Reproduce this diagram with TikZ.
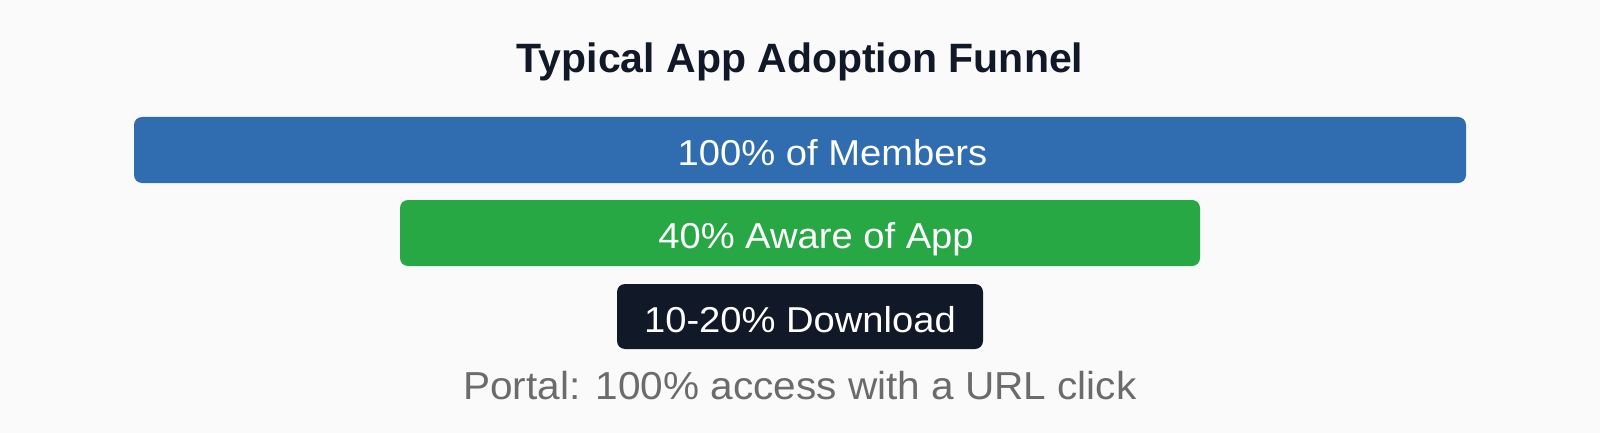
\documentclass[tikz,border=0pt]{standalone}
\usepackage{fontspec}
\setmainfont{Liberation Sans}
\newfontfamily\barfont[FakeStretch=1.06]{Liberation Sans}
\newfontfamily\capfont[FakeStretch=1.04]{Liberation Sans}
\definecolor{bgc}{HTML}{FAFAFA}
\definecolor{titlec}{HTML}{111827}
\definecolor{bluec}{HTML}{2F6DB0}
\definecolor{greenc}{HTML}{28A745}
\definecolor{darkc}{HTML}{111827}
\definecolor{grayc}{HTML}{6B6B6B}
\tikzset{
  barbox/.style={rectangle, rounded corners=8pt, inner sep=0pt},
  bartext/.style={anchor=base, text=white, inner sep=0pt,
    font=\barfont\fontsize{36}{43}\selectfont},
}
\begin{document}
\begin{tikzpicture}[x=1pt,y=-1pt]
\fill[bgc] (0,0) rectangle (1600,433);
\useasboundingbox (0,0) rectangle (1600,433);
\node[anchor=base, text=titlec, font=\fontsize{41}{49}\selectfont\bfseries] (title) at (800,73) {Typical App Adoption Funnel};
\node[barbox, fill=bluec, minimum width=1332pt, minimum height=66pt] (members) at (800,150) {};
\node[bartext] (memberst) at (832.5,165.7) {100\% of Members};
\node[barbox, fill=greenc, minimum width=800pt, minimum height=66pt] (aware) at (800,233) {};
\node[bartext] (awaret) at (816,248.5) {40\% Aware of App};
\node[barbox, fill=darkc, minimum width=366pt, minimum height=65pt] (download) at (800,316.5) {};
\node[bartext] (downloadt) at (800,332.5) {10-20\% Download};
\node[anchor=base, text=grayc, font=\capfont\fontsize{39}{46}\selectfont] (portal) at (800,399.3) {Portal: 100\% access with a URL click};
\end{tikzpicture}
\end{document}
